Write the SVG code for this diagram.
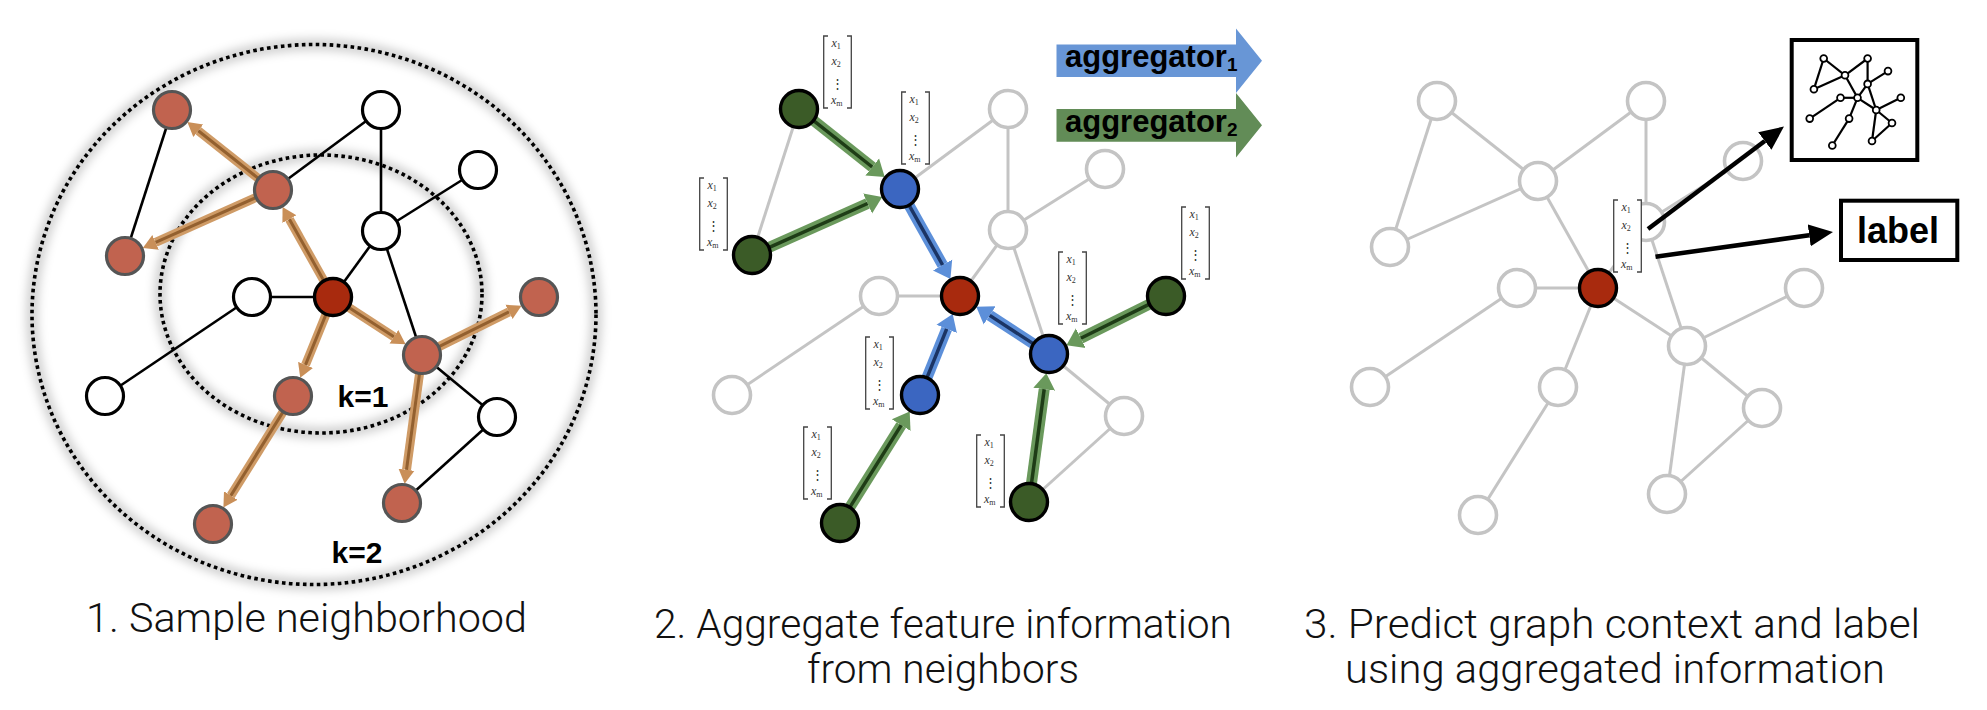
<svg xmlns="http://www.w3.org/2000/svg" width="1987" height="710" viewBox="0 0 1987 710">
<defs>
<style>
.ek{stroke:#000;stroke-width:2.6;fill:none}
.eg{stroke:#c4c4c4;stroke-width:3;fill:none}
.nw{fill:#fff;stroke:#000;stroke-width:3.2}
.nr{fill:#c1634f;stroke:#555;stroke-width:3.2}
.nc{fill:#a82a0e;stroke:#000;stroke-width:3.4}
.ngw{fill:#fff;stroke:#c4c4c4;stroke-width:3.6}
.nb{fill:#3b66c1;stroke:#000;stroke-width:3.4}
.ngr{fill:#3b5b27;stroke:#000;stroke-width:3.4}
.bband{stroke:#cf9b66;stroke-width:9;fill:none}
.bcore{stroke:#93602f;stroke-width:3;fill:none}
.blband{stroke:#5c8fd9;stroke-width:11;fill:none}
.blcore{stroke:#1b3464;stroke-width:3.5;fill:none}
.grband{stroke:#6a995c;stroke-width:11;fill:none}
.grcore{stroke:#1e3c16;stroke-width:3.5;fill:none}
.dot{fill:none;stroke:#000;stroke-width:3.6;stroke-dasharray:3.6 3.4}
.halo{fill:none;stroke:#000;stroke-opacity:.18;stroke-width:12;filter:url(#blur)}
.k{font-family:"Liberation Sans",Arial,sans-serif;font-weight:bold;font-size:30px;text-anchor:middle;fill:#000}
.cap{font-family:Roboto,"Liberation Sans",Arial,sans-serif;font-weight:300;font-size:41px;fill:#111}
.agg{font-family:"Liberation Sans",Arial,sans-serif;font-weight:bold;font-size:31px;fill:#000}
.aggs{font-size:19px}
.vx{font-family:"Liberation Serif","Times New Roman",serif;font-style:italic;font-size:12px;fill:#333}
.vs{font-style:normal;font-size:8px}
.vdots{font-family:"DejaVu Serif",serif;font-size:13px;fill:#333;text-anchor:middle}
.br{fill:none;stroke:#444;stroke-width:1.3}
.vbg{fill:#fff}
.ka{stroke:#000;stroke-width:4.5;fill:none}
.box{fill:#fff;stroke:#000;stroke-width:4}
.lbl{font-family:"Liberation Sans",Arial,sans-serif;font-weight:bold;font-size:36px;text-anchor:middle;fill:#000}
.me{stroke:#000;stroke-width:2.2}
.mn{fill:#fff;stroke:#000;stroke-width:1.8}
</style>
<filter id="blur" x="-20%" y="-20%" width="140%" height="140%"><feGaussianBlur stdDeviation="5"/></filter>
<marker id="mBr" markerUnits="userSpaceOnUse" orient="auto" markerWidth="14" markerHeight="18" viewBox="0 -9 14 18" refX="0" refY="0"><path d="M0,-8 L14,0 L0,8 z" fill="#c98f58"/></marker>
<marker id="mBl" markerUnits="userSpaceOnUse" orient="auto" markerWidth="16" markerHeight="24" viewBox="0 -12 16 24" refX="0" refY="0"><path d="M0,-11 L16,0 L0,11 z" fill="#5c8fd9"/></marker>
<marker id="mGr" markerUnits="userSpaceOnUse" orient="auto" markerWidth="16" markerHeight="24" viewBox="0 -12 16 24" refX="0" refY="0"><path d="M0,-11 L16,0 L0,11 z" fill="#6a995c"/></marker>
<marker id="mK" markerUnits="userSpaceOnUse" orient="auto" markerWidth="24" markerHeight="24" viewBox="0 -12 24 24" refX="0" refY="0"><path d="M0,-11 L24,0 L0,11 z" fill="#000"/></marker>
</defs>
<rect width="1987" height="710" fill="#fff"/>

<!-- ================= PANEL 1 ================= -->
<g id="panel1">
  <g id="p1-rings">
    <ellipse class="halo" cx="314" cy="314.5" rx="282" ry="270"/>
    <ellipse class="halo" cx="321" cy="294" rx="161" ry="139"/>
    <ellipse class="dot" cx="314" cy="314.5" rx="282" ry="270"/>
    <ellipse class="dot" cx="321" cy="294" rx="161" ry="139"/>
  </g>
  <g id="p1-connectors">
    <line class="ek" x1="172" y1="110" x2="125" y2="256"/>
    <line class="ek" x1="273" y1="190" x2="381" y2="110"/>
    <line class="ek" x1="381" y1="110" x2="381" y2="231"/>
    <line class="ek" x1="381" y1="231" x2="478" y2="170"/>
    <line class="ek" x1="381" y1="231" x2="333" y2="297"/>
    <line class="ek" x1="381" y1="231" x2="422" y2="355"/>
    <line class="ek" x1="252" y1="297" x2="333" y2="297"/>
    <line class="ek" x1="252" y1="297" x2="105" y2="396"/>
    <line class="ek" x1="422" y1="355" x2="497" y2="417"/>
    <line class="ek" x1="497" y1="417" x2="402" y2="503"/>
    <g id="p1-sample-arrows">
      <line class="bband" x1="258.1" y1="178.2" x2="198.3" y2="130.8" marker-end="url(#mBr)"/>
      <line class="bcore" x1="258.1" y1="178.2" x2="198.3" y2="130.8"/>
      <line class="bband" x1="255.6" y1="197.7" x2="155.6" y2="242.4" marker-end="url(#mBr)"/>
      <line class="bcore" x1="255.6" y1="197.7" x2="155.6" y2="242.4"/>
      <line class="bband" x1="323.7" y1="280.4" x2="289.4" y2="219.2" marker-end="url(#mBr)"/>
      <line class="bcore" x1="323.7" y1="280.4" x2="289.4" y2="219.2"/>
      <line class="bband" x1="348.9" y1="307.4" x2="393.9" y2="336.7" marker-end="url(#mBr)"/>
      <line class="bcore" x1="348.9" y1="307.4" x2="393.9" y2="336.7"/>
      <line class="bband" x1="325.9" y1="314.6" x2="305.5" y2="364.9" marker-end="url(#mBr)"/>
      <line class="bcore" x1="325.9" y1="314.6" x2="305.5" y2="364.9"/>
      <line class="bband" x1="439" y1="346.6" x2="509" y2="311.9" marker-end="url(#mBr)"/>
      <line class="bcore" x1="439" y1="346.6" x2="509" y2="311.9"/>
      <line class="bband" x1="419.5" y1="373.8" x2="406.5" y2="469.8" marker-end="url(#mBr)"/>
      <line class="bcore" x1="419.5" y1="373.8" x2="406.5" y2="469.8"/>
      <line class="bband" x1="282.9" y1="412.1" x2="230.8" y2="495.6" marker-end="url(#mBr)"/>
      <line class="bcore" x1="282.9" y1="412.1" x2="230.8" y2="495.6"/>
    </g>
  </g>
  <g id="p1-A"><circle class="nr" cx="172" cy="110" r="18.5"/></g>
  <g id="p1-B"><circle class="nw" cx="381" cy="110" r="18.5"/></g>
  <g id="p1-C"><circle class="nr" cx="273" cy="190" r="18.5"/></g>
  <g id="p1-D"><circle class="nw" cx="478" cy="170" r="18.5"/></g>
  <g id="p1-E"><circle class="nw" cx="381" cy="231" r="18.5"/></g>
  <g id="p1-F"><circle class="nr" cx="125" cy="256" r="18.5"/></g>
  <g id="p1-G"><circle class="nw" cx="252" cy="297" r="18.5"/></g>
  <g id="p1-H"><circle class="nc" cx="333" cy="297" r="18.5"/></g>
  <g id="p1-I"><circle class="nr" cx="539" cy="297" r="18.5"/></g>
  <g id="p1-J"><circle class="nr" cx="422" cy="355" r="18.5"/></g>
  <g id="p1-K"><circle class="nr" cx="293" cy="396" r="18.5"/></g>
  <g id="p1-L"><circle class="nw" cx="105" cy="396" r="18.5"/></g>
  <g id="p1-M"><circle class="nw" cx="497" cy="417" r="18.5"/></g>
  <g id="p1-N"><circle class="nr" cx="402" cy="503" r="18.5"/></g>
  <g id="p1-O"><circle class="nr" cx="213" cy="524" r="18.5"/></g>
  <g id="p1-k1"><text class="k" x="363" y="407">k=1</text></g>
  <g id="p1-k2"><text class="k" x="357" y="563">k=2</text></g>
</g>

<!-- ================= PANEL 2 ================= -->
<g id="panel2">
  <g transform="translate(627,-1)">
    <g id="p2-connectors">
      <line class="eg" x1="172" y1="110" x2="125" y2="256"/>
      <line class="eg" x1="273" y1="190" x2="381" y2="110"/>
      <line class="eg" x1="381" y1="110" x2="381" y2="231"/>
      <line class="eg" x1="381" y1="231" x2="478" y2="170"/>
      <line class="eg" x1="381" y1="231" x2="333" y2="297"/>
      <line class="eg" x1="381" y1="231" x2="422" y2="355"/>
      <line class="eg" x1="252" y1="297" x2="333" y2="297"/>
      <line class="eg" x1="252" y1="297" x2="105" y2="396"/>
      <line class="eg" x1="422" y1="355" x2="497" y2="417"/>
      <line class="eg" x1="497" y1="417" x2="402" y2="503"/>
      <g id="p2-agg-arrows">
        <line class="grband" x1="186.9" y1="121.8" x2="245.2" y2="168" marker-end="url(#mGr)"/>
        <line class="grcore" x1="186.9" y1="121.8" x2="245.2" y2="168"/>
        <line class="grband" x1="142.4" y1="248.3" x2="240.6" y2="204.5" marker-end="url(#mGr)"/>
        <line class="grcore" x1="142.4" y1="248.3" x2="240.6" y2="204.5"/>
        <line class="blband" x1="282.3" y1="206.6" x2="315.6" y2="266" marker-end="url(#mBl)"/>
        <line class="blcore" x1="282.3" y1="206.6" x2="315.6" y2="266"/>
        <line class="blband" x1="406.1" y1="344.6" x2="362.7" y2="316.4" marker-end="url(#mBl)"/>
        <line class="blcore" x1="406.1" y1="344.6" x2="362.7" y2="316.4"/>
        <line class="blband" x1="300.1" y1="378.4" x2="319.7" y2="329.9" marker-end="url(#mBl)"/>
        <line class="blcore" x1="300.1" y1="378.4" x2="319.7" y2="329.9"/>
        <line class="grband" x1="522" y1="305.4" x2="453.8" y2="339.2" marker-end="url(#mGr)"/>
        <line class="grcore" x1="522" y1="305.4" x2="453.8" y2="339.2"/>
        <line class="grband" x1="404.5" y1="484.2" x2="417.2" y2="390.2" marker-end="url(#mGr)"/>
        <line class="grcore" x1="404.5" y1="484.2" x2="417.2" y2="390.2"/>
        <line class="grband" x1="223.1" y1="507.9" x2="274.2" y2="426.1" marker-end="url(#mGr)"/>
        <line class="grcore" x1="223.1" y1="507.9" x2="274.2" y2="426.1"/>
      </g>
    </g>
    <g id="p2-A"><circle class="ngr" cx="172" cy="110" r="18.5"/></g>
    <g id="p2-B"><circle class="ngw" cx="381" cy="110" r="18.5"/></g>
    <g id="p2-C"><circle class="nb" cx="273" cy="190" r="18.5"/></g>
    <g id="p2-D"><circle class="ngw" cx="478" cy="170" r="18.5"/></g>
    <g id="p2-E"><circle class="ngw" cx="381" cy="231" r="18.5"/></g>
    <g id="p2-F"><circle class="ngr" cx="125" cy="256" r="18.5"/></g>
    <g id="p2-G"><circle class="ngw" cx="252" cy="297" r="18.5"/></g>
    <g id="p2-H"><circle class="nc" cx="333" cy="297" r="18.5"/></g>
    <g id="p2-I"><circle class="ngr" cx="539" cy="297" r="18.5"/></g>
    <g id="p2-J"><circle class="nb" cx="422" cy="355" r="18.5"/></g>
    <g id="p2-K"><circle class="nb" cx="293" cy="396" r="18.5"/></g>
    <g id="p2-L"><circle class="ngw" cx="105" cy="396" r="18.5"/></g>
    <g id="p2-M"><circle class="ngw" cx="497" cy="417" r="18.5"/></g>
    <g id="p2-N"><circle class="ngr" cx="402" cy="503" r="18.5"/></g>
    <g id="p2-O"><circle class="ngr" cx="213" cy="524" r="18.5"/></g>
  </g>

  <g id="p2-vec1" transform="translate(823,36)"><rect class="vbg" x="0" y="0" width="29" height="72"/><path class="br" d="M5,0H0.7V72H5M24,0H28.3V72H24"/><text class="vx" x="8.5" y="11">x<tspan class="vs" dy="2">1</tspan></text><text class="vx" x="8.5" y="29">x<tspan class="vs" dy="2">2</tspan></text><text class="vdots" x="14.5" y="52">⋮</text><text class="vx" x="8" y="68">x<tspan class="vs" dy="2">m</tspan></text></g>
  <g id="p2-vec2" transform="translate(901,92)"><rect class="vbg" x="0" y="0" width="29" height="72"/><path class="br" d="M5,0H0.7V72H5M24,0H28.3V72H24"/><text class="vx" x="8.5" y="11">x<tspan class="vs" dy="2">1</tspan></text><text class="vx" x="8.5" y="29">x<tspan class="vs" dy="2">2</tspan></text><text class="vdots" x="14.5" y="52">⋮</text><text class="vx" x="8" y="68">x<tspan class="vs" dy="2">m</tspan></text></g>
  <g id="p2-vec3" transform="translate(699,178)"><rect class="vbg" x="0" y="0" width="29" height="72"/><path class="br" d="M5,0H0.7V72H5M24,0H28.3V72H24"/><text class="vx" x="8.5" y="11">x<tspan class="vs" dy="2">1</tspan></text><text class="vx" x="8.5" y="29">x<tspan class="vs" dy="2">2</tspan></text><text class="vdots" x="14.5" y="52">⋮</text><text class="vx" x="8" y="68">x<tspan class="vs" dy="2">m</tspan></text></g>
  <g id="p2-vec4" transform="translate(1181,207)"><rect class="vbg" x="0" y="0" width="29" height="72"/><path class="br" d="M5,0H0.7V72H5M24,0H28.3V72H24"/><text class="vx" x="8.5" y="11">x<tspan class="vs" dy="2">1</tspan></text><text class="vx" x="8.5" y="29">x<tspan class="vs" dy="2">2</tspan></text><text class="vdots" x="14.5" y="52">⋮</text><text class="vx" x="8" y="68">x<tspan class="vs" dy="2">m</tspan></text></g>
  <g id="p2-vec5" transform="translate(1058,252)"><rect class="vbg" x="0" y="0" width="29" height="72"/><path class="br" d="M5,0H0.7V72H5M24,0H28.3V72H24"/><text class="vx" x="8.5" y="11">x<tspan class="vs" dy="2">1</tspan></text><text class="vx" x="8.5" y="29">x<tspan class="vs" dy="2">2</tspan></text><text class="vdots" x="14.5" y="52">⋮</text><text class="vx" x="8" y="68">x<tspan class="vs" dy="2">m</tspan></text></g>
  <g id="p2-vec6" transform="translate(865,337)"><rect class="vbg" x="0" y="0" width="29" height="72"/><path class="br" d="M5,0H0.7V72H5M24,0H28.3V72H24"/><text class="vx" x="8.5" y="11">x<tspan class="vs" dy="2">1</tspan></text><text class="vx" x="8.5" y="29">x<tspan class="vs" dy="2">2</tspan></text><text class="vdots" x="14.5" y="52">⋮</text><text class="vx" x="8" y="68">x<tspan class="vs" dy="2">m</tspan></text></g>
  <g id="p2-vec7" transform="translate(803,427)"><rect class="vbg" x="0" y="0" width="29" height="72"/><path class="br" d="M5,0H0.7V72H5M24,0H28.3V72H24"/><text class="vx" x="8.5" y="11">x<tspan class="vs" dy="2">1</tspan></text><text class="vx" x="8.5" y="29">x<tspan class="vs" dy="2">2</tspan></text><text class="vdots" x="14.5" y="52">⋮</text><text class="vx" x="8" y="68">x<tspan class="vs" dy="2">m</tspan></text></g>
  <g id="p2-vec8" transform="translate(976,435)"><rect class="vbg" x="0" y="0" width="29" height="72"/><path class="br" d="M5,0H0.7V72H5M24,0H28.3V72H24"/><text class="vx" x="8.5" y="11">x<tspan class="vs" dy="2">1</tspan></text><text class="vx" x="8.5" y="29">x<tspan class="vs" dy="2">2</tspan></text><text class="vdots" x="14.5" y="52">⋮</text><text class="vx" x="8" y="68">x<tspan class="vs" dy="2">m</tspan></text></g>

  <g id="p2-legend1">
    <polygon points="1056.5,44.5 1236,44.5 1236,28.5 1262,60.7 1236,92.9 1236,77 1056.5,77" fill="#6896d6"/>
    <text class="agg" x="1065" y="67">aggregator<tspan class="aggs" dy="4">1</tspan></text>
  </g>
  <g id="p2-legend2">
    <polygon points="1056.5,109 1236,109 1236,93 1262,125.3 1236,157.6 1236,141.7 1056.5,141.7" fill="#628c57"/>
    <text class="agg" x="1065" y="131.5">aggregator<tspan class="aggs" dy="4">2</tspan></text>
  </g>
</g>

<!-- ================= PANEL 3 ================= -->
<g id="panel3">
  <g transform="translate(1265,-9)">
    <g id="p3-connectors">
      <line class="eg" x1="172" y1="110" x2="125" y2="256"/>
      <line class="eg" x1="172" y1="110" x2="273" y2="190"/>
      <line class="eg" x1="273" y1="190" x2="381" y2="110"/>
      <line class="eg" x1="381" y1="110" x2="381" y2="231"/>
      <line class="eg" x1="273" y1="190" x2="125" y2="256"/>
      <line class="eg" x1="273" y1="190" x2="333" y2="297"/>
      <line class="eg" x1="381" y1="231" x2="478" y2="170"/>
      <line class="eg" x1="381" y1="231" x2="333" y2="297"/>
      <line class="eg" x1="252" y1="297" x2="333" y2="297"/>
      <line class="eg" x1="252" y1="297" x2="105" y2="396"/>
      <line class="eg" x1="333" y1="297" x2="422" y2="355"/>
      <line class="eg" x1="333" y1="297" x2="293" y2="396"/>
      <line class="eg" x1="422" y1="355" x2="381" y2="231"/>
      <line class="eg" x1="422" y1="355" x2="539" y2="297"/>
      <line class="eg" x1="422" y1="355" x2="497" y2="417"/>
      <line class="eg" x1="422" y1="355" x2="402" y2="503"/>
      <line class="eg" x1="497" y1="417" x2="402" y2="503"/>
      <line class="eg" x1="293" y1="396" x2="213" y2="524"/>
    </g>
    <g id="p3-A"><circle class="ngw" cx="172" cy="110" r="18.5"/></g>
    <g id="p3-B"><circle class="ngw" cx="381" cy="110" r="18.5"/></g>
    <g id="p3-C"><circle class="ngw" cx="273" cy="190" r="18.5"/></g>
    <g id="p3-D"><circle class="ngw" cx="478" cy="170" r="18.5"/></g>
    <g id="p3-E"><circle class="ngw" cx="381" cy="231" r="18.5"/></g>
    <g id="p3-F"><circle class="ngw" cx="125" cy="256" r="18.5"/></g>
    <g id="p3-G"><circle class="ngw" cx="252" cy="297" r="18.5"/></g>
    <g id="p3-H"><circle class="nc" cx="333" cy="297" r="18.5"/></g>
    <g id="p3-I"><circle class="ngw" cx="539" cy="297" r="18.5"/></g>
    <g id="p3-J"><circle class="ngw" cx="422" cy="355" r="18.5"/></g>
    <g id="p3-K"><circle class="ngw" cx="293" cy="396" r="18.5"/></g>
    <g id="p3-L"><circle class="ngw" cx="105" cy="396" r="18.5"/></g>
    <g id="p3-M"><circle class="ngw" cx="497" cy="417" r="18.5"/></g>
    <g id="p3-N"><circle class="ngw" cx="402" cy="503" r="18.5"/></g>
    <g id="p3-O"><circle class="ngw" cx="213" cy="524" r="18.5"/></g>
  </g>

  <g id="p3-vec" transform="translate(1613,200)"><rect class="vbg" x="0" y="0" width="29" height="72"/><path class="br" d="M5,0H0.7V72H5M24,0H28.3V72H24"/><text class="vx" x="8.5" y="11">x<tspan class="vs" dy="2">1</tspan></text><text class="vx" x="8.5" y="29">x<tspan class="vs" dy="2">2</tspan></text><text class="vdots" x="14.5" y="52">⋮</text><text class="vx" x="8" y="68">x<tspan class="vs" dy="2">m</tspan></text></g>

  <g id="p3-output-arrows">
    <line class="ka" x1="1648" y1="229" x2="1764.8" y2="141" marker-end="url(#mK)"/>
    <line class="ka" x1="1655.5" y1="256.7" x2="1809.2" y2="235.3" marker-end="url(#mK)"/>
  </g>

  <g id="p3-context">
    <rect class="box" x="1791.7" y="40" width="125.6" height="120"/>
    <g id="p3-mini-edges">
      <line class="me" x1="1823.7" y1="58.5" x2="1813.9" y2="89.2"/>
      <line class="me" x1="1823.7" y1="58.5" x2="1845" y2="75.3"/>
      <line class="me" x1="1845" y1="75.3" x2="1867.6" y2="58.5"/>
      <line class="me" x1="1867.6" y1="58.5" x2="1867.6" y2="83.9"/>
      <line class="me" x1="1845" y1="75.3" x2="1813.9" y2="89.2"/>
      <line class="me" x1="1845" y1="75.3" x2="1857.5" y2="97.8"/>
      <line class="me" x1="1867.6" y1="83.9" x2="1888" y2="71.1"/>
      <line class="me" x1="1867.6" y1="83.9" x2="1857.5" y2="97.8"/>
      <line class="me" x1="1840.5" y1="97.8" x2="1857.5" y2="97.8"/>
      <line class="me" x1="1840.5" y1="97.8" x2="1809.7" y2="118.6"/>
      <line class="me" x1="1857.5" y1="97.8" x2="1876.2" y2="110"/>
      <line class="me" x1="1857.5" y1="97.8" x2="1849.1" y2="118.6"/>
      <line class="me" x1="1876.2" y1="110" x2="1867.6" y2="83.9"/>
      <line class="me" x1="1876.2" y1="110" x2="1900.8" y2="97.8"/>
      <line class="me" x1="1876.2" y1="110" x2="1892" y2="123"/>
      <line class="me" x1="1876.2" y1="110" x2="1872" y2="141"/>
      <line class="me" x1="1892" y1="123" x2="1872" y2="141"/>
      <line class="me" x1="1849.1" y1="118.6" x2="1832.3" y2="145.5"/>
    </g>
    <g id="p3-mini-nodes">
      <circle class="mn" cx="1823.7" cy="58.5" r="3.4"/>
      <circle class="mn" cx="1867.6" cy="58.5" r="3.4"/>
      <circle class="mn" cx="1845" cy="75.3" r="3.4"/>
      <circle class="mn" cx="1888" cy="71.1" r="3.4"/>
      <circle class="mn" cx="1867.6" cy="83.9" r="3.4"/>
      <circle class="mn" cx="1813.9" cy="89.2" r="3.4"/>
      <circle class="mn" cx="1840.5" cy="97.8" r="3.4"/>
      <circle class="mn" cx="1857.5" cy="97.8" r="3.4"/>
      <circle class="mn" cx="1900.8" cy="97.8" r="3.4"/>
      <circle class="mn" cx="1876.2" cy="110" r="3.4"/>
      <circle class="mn" cx="1849.1" cy="118.6" r="3.4"/>
      <circle class="mn" cx="1809.7" cy="118.6" r="3.4"/>
      <circle class="mn" cx="1892" cy="123" r="3.4"/>
      <circle class="mn" cx="1872" cy="141" r="3.4"/>
      <circle class="mn" cx="1832.3" cy="145.5" r="3.4"/>
    </g>
  </g>
  <g id="p3-label">
    <rect class="box" x="1841" y="200.7" width="116.3" height="59.3"/>
    <text class="lbl" x="1898" y="243">label</text>
  </g>
</g>

<!-- ================= CAPTIONS ================= -->
<g id="captions">
  <text class="cap" x="86" y="632" textLength="441" lengthAdjust="spacingAndGlyphs">1. Sample neighborhood</text>
  <text class="cap" x="654" y="638" textLength="578" lengthAdjust="spacingAndGlyphs">2. Aggregate feature information</text>
  <text class="cap" x="807" y="683" textLength="272" lengthAdjust="spacingAndGlyphs">from neighbors</text>
  <text class="cap" x="1304" y="638" textLength="616" lengthAdjust="spacingAndGlyphs">3. Predict graph context and label</text>
  <text class="cap" x="1345" y="683" textLength="540" lengthAdjust="spacingAndGlyphs">using aggregated information</text>
</g>
</svg>
